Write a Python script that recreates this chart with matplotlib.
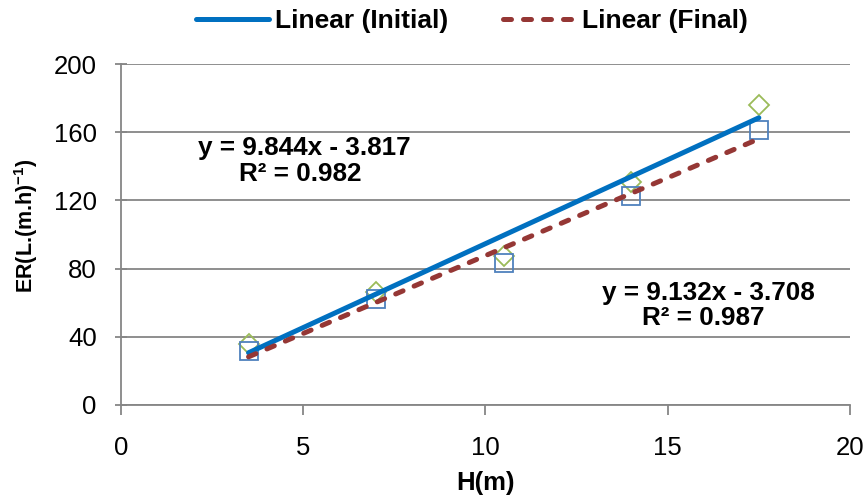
import matplotlib
matplotlib.use("Agg")
import matplotlib.pyplot as plt
import numpy as np

plt.rcParams['font.family'] = ['Liberation Sans', 'DejaVu Sans']
plt.rcParams['mathtext.fontset'] = 'custom'
plt.rcParams['mathtext.rm'] = 'Liberation Sans'
plt.rcParams['mathtext.bf'] = 'Liberation Sans:bold'

# Measured emission rate versus height
height = [3.5, 7.0, 10.5, 14.0, 17.5]
er_initial = [35.5, 66, 87.5, 131, 176]
er_final = [31.5, 62, 83, 122.5, 161.5]

# Linear trendline coefficients (slope, intercept) and R²
fit_initial = (9.844, -3.817, 0.982)
fit_final = (9.132, -3.708, 0.987)

grid_gray = '#868686'

fig = plt.figure(figsize=(8.66, 4.99), dpi=100)
ax = fig.add_axes([0.1397, 0.1884, 0.9815 - 0.1397, 0.8717 - 0.1884])

ax.plot(height, er_initial, linestyle='none', marker='D', markersize=10,
        markerfacecolor='none', markeredgecolor='#9BBB59', markeredgewidth=1.3, zorder=3)
ax.plot(height, er_final, linestyle='none', marker='s', markersize=13.5,
        markerfacecolor='none', markeredgecolor='#4F81BD', markeredgewidth=1.3, zorder=3)

xs = np.array([height[0], height[-1]])
l1, = ax.plot(xs, fit_initial[0] * xs + fit_initial[1], color='#0070C0', lw=3.6,
              solid_capstyle='round', zorder=4, label='Linear (Initial)')
l2, = ax.plot(xs, fit_final[0] * xs + fit_final[1], color='#953735', lw=3.6,
              dashes=(1.6, 2.4), dash_capstyle='round', zorder=4, label='Linear (Final)')

ax.set_xlim(0, 20)
ax.set_ylim(0, 200)
ax.set_xticks([0, 5, 10, 15, 20])
ax.set_yticks([0, 40, 80, 120, 160, 200])
ax.yaxis.grid(True, color=grid_gray, lw=1.3)
ax.set_axisbelow(True)
for s in ['top', 'right']:
    ax.spines[s].set_visible(False)
for s in ['left', 'bottom']:
    ax.spines[s].set_color(grid_gray)
    ax.spines[s].set_linewidth(1.3)
ax.tick_params(axis='x', direction='out', length=7, width=1.3, color=grid_gray,
               labelsize=18.5, pad=15)
ax.tick_params(axis='y', direction='inout', length=9, width=1.3, color=grid_gray,
               labelsize=18.5, pad=13)

ax.set_xlabel('H(m)', fontsize=18.5, fontweight='bold', labelpad=8.5)
ax.set_ylabel(r'ER(L.(m.h)$^{\mathbf{-1}}$)', fontsize=15.5, fontweight='bold', labelpad=10)
ax.yaxis.label.set_y(0.525)

# Trendline equations, one text per line
eq_kw = dict(ha='center', va='center', fontsize=18.8, fontweight='bold',
             transform=fig.transFigure)
ax.text(304 / 866, 1 - 148 / 499,
        f'y = {fit_initial[0]:.3f}x - {abs(fit_initial[1]):.3f}', **eq_kw)
ax.text(300 / 866, 1 - 174 / 499, f'R² = {fit_initial[2]:.3f}', **eq_kw)
ax.text(708 / 866, 1 - 293 / 499,
        f'y = {fit_final[0]:.3f}x - {abs(fit_final[1]):.3f}', **eq_kw)
ax.text(703 / 866, 1 - 318 / 499, f'R² = {fit_final[2]:.3f}', **eq_kw)

fig.legend(handles=[l1, l2], loc='center', bbox_to_anchor=(472 / 866, 1 - 21 / 499),
           ncol=2, frameon=False, prop={'weight': 'bold', 'size': 19},
           handlelength=2.75, handletextpad=0.23, columnspacing=2.1,
           borderpad=0, borderaxespad=0)

fig.savefig('out.png', dpi=100)
